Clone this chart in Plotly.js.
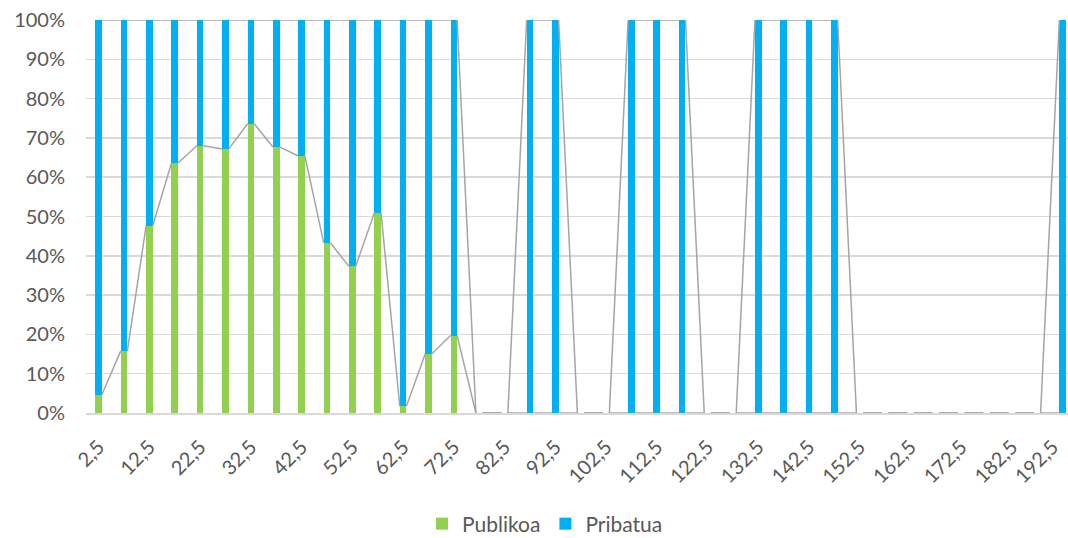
<!DOCTYPE html>
<html>
<head>
<meta charset="utf-8">
<script src="https://cdn.plot.ly/plotly-3.0.1.min.js"></script>
<style>html,body{margin:0;padding:0;background:#fff;}#chart{width:1068px;height:538px;}</style>
</head>
<body>
<div id="chart"></div>
<script>
// Categories (x axis)
const categories = ['2,5','7,5','12,5','17,5','22,5','27,5','32,5','37,5','42,5','47,5','52,5','57,5','62,5','67,5','72,5','77,5','82,5','87,5','92,5','97,5','102,5','107,5','112,5','117,5','122,5','127,5','132,5','137,5','142,5','147,5','152,5','157,5','162,5','167,5','172,5','177,5','182,5','187,5','192,5'];
// Share (%) public
const publikoa = [4.7,15.8,47.6,63.6,68.0,67.2,73.6,67.7,65.4,43.3,37.3,51.0,1.7,15.0,19.7,0,0,0,0,0,0,0,0,0,0,0,0,0,0,0,0,0,0,0,0,0,0,0,0];
// Share (%) private
const pribatua = [95.3,84.2,52.4,36.4,32.0,32.8,26.4,32.3,34.6,56.7,62.7,49.0,98.3,85.0,80.3,0,0,100,100,0,0,100,100,100,0,0,100,100,100,100,0,0,0,0,0,0,0,0,100];
const seriesNames = ['Publikoa','Pribatua'];
const colors = ['#92D050','#00B0F0'];

const idx = categories.map((c,i)=>i);
const barW = 0.26;

// Series lines (connect segment tops from bar edge to next bar edge)
function seriesLine(tops){
  const xs=[], ys=[];
  for(let i=0;i<tops.length-1;i++){
    xs.push(i+barW/2, i+1-barW/2, null);
    ys.push(tops[i], tops[i+1], null);
  }
  return {x:xs,y:ys,type:'scatter',mode:'lines',line:{color:'#A5A5A5',width:1.5},showlegend:false,hoverinfo:'skip',cliponaxis:false};
}
const topGreen = publikoa.slice();
const topBlue = publikoa.map((v,i)=>v+pribatua[i]);

const traces = [
  seriesLine(topGreen),
  seriesLine(topBlue),
  {x:idx,y:publikoa,type:'bar',name:seriesNames[0],marker:{color:colors[0]},width:barW},
  {x:idx,y:pribatua,type:'bar',name:seriesNames[1],marker:{color:colors[1]},width:barW}
];

// every other category labelled; the last label is nudged left to stay inside the picture
const tickIdx = idx.filter(i=>i%2===0);
const tickPos = tickIdx.map(i=> i===idx.length-1 ? i-0.4 : i);
const layout = {
  width:1068,height:538,
  margin:{l:86,r:0,t:20,b:125,autoexpand:false},
  barmode:'stack',
  paper_bgcolor:'#fff',plot_bgcolor:'#fff',
  font:{family:'Lato, "Open Sans", sans-serif',size:20,color:'#595959'},
  xaxis:{range:[-0.5,38.21],tickvals:tickPos,ticktext:tickIdx.map(i=>categories[i]),tickangle:-45,automargin:false,
    showgrid:false,zeroline:false,showline:true,linecolor:'#D9D9D9',linewidth:1.5,ticks:'',ticklabelstandoff:13,ticklabeloverflow:'allow'},
  yaxis:{range:[0,100],dtick:10,ticksuffix:'%',showgrid:true,gridcolor:'#D9D9D9',gridwidth:1.5,zeroline:false,ticks:'',ticklabelstandoff:20,automargin:false},
  legend:{orientation:'h',x:(545-86)/982,xanchor:'center',y:-(524-413)/393,yanchor:'middle',font:{size:21,color:'#595959'},traceorder:'normal',itemwidth:30},
  hovermode:false
};
Plotly.newPlot('chart',traces,layout,{displayModeBar:false,staticPlot:true});
</script>
</body>
</html>
